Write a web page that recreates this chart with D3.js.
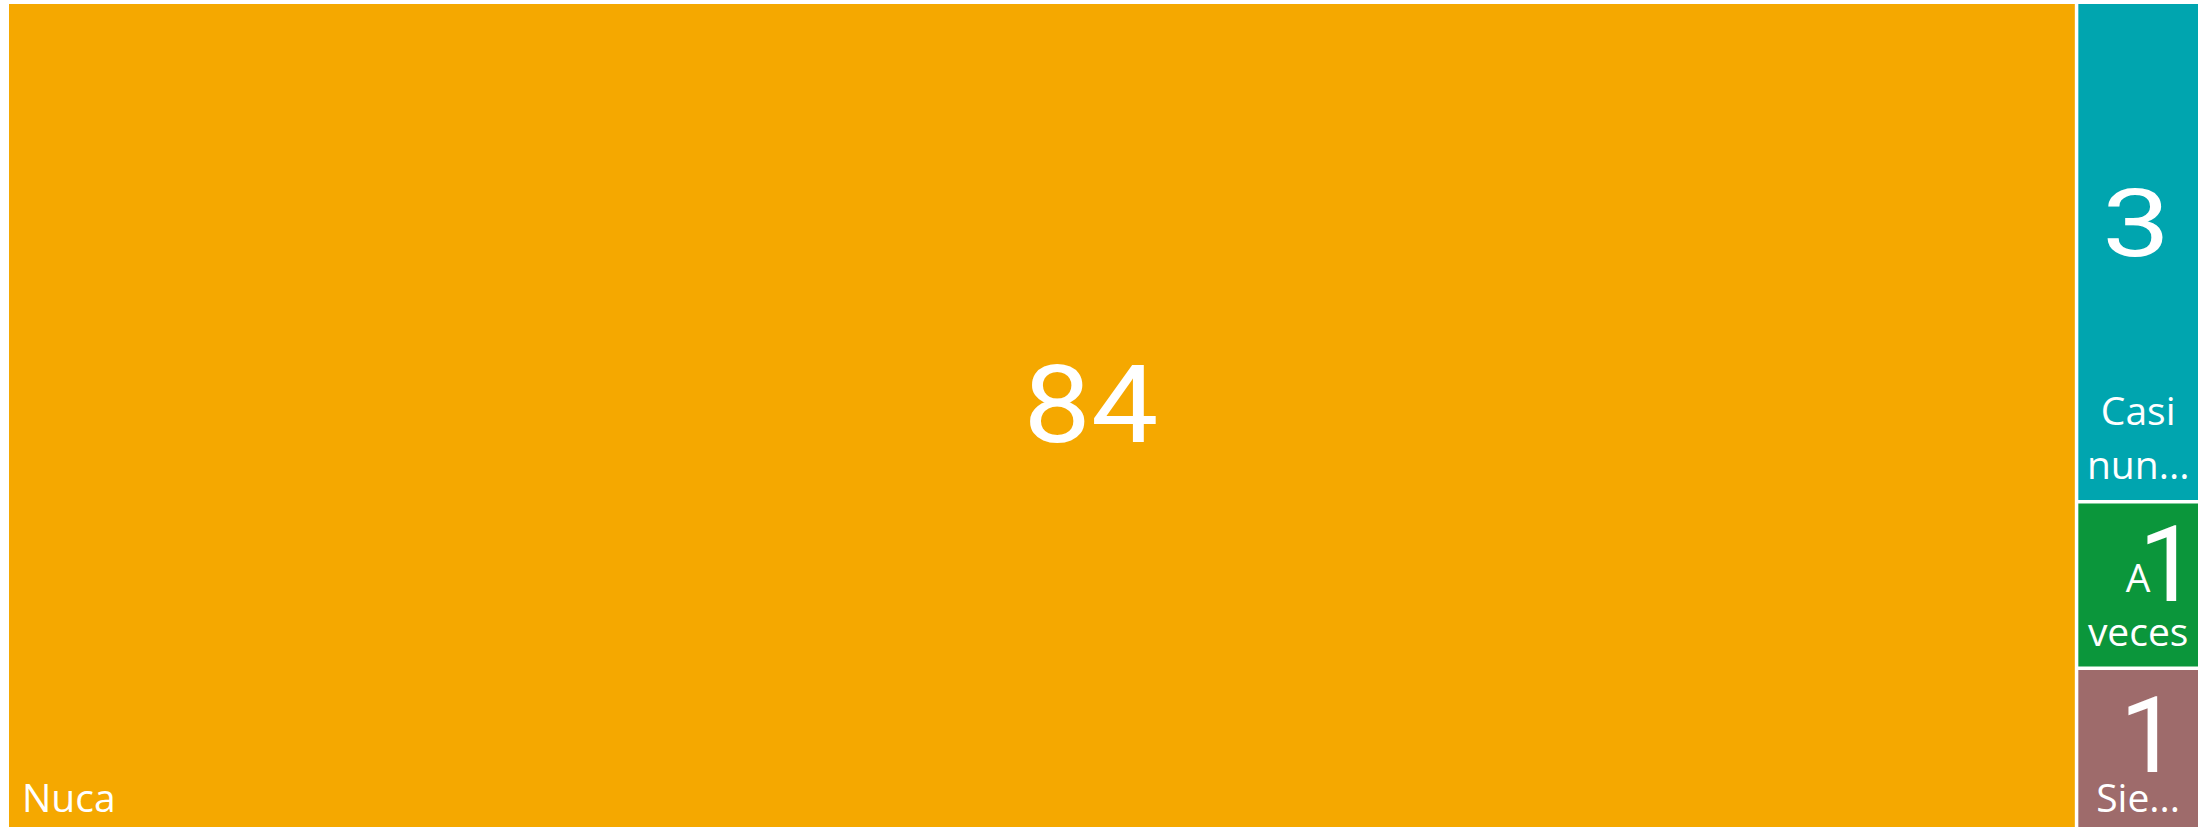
<!DOCTYPE html>
<html>
<head>
<meta charset="utf-8">
<script src="https://cdn.jsdelivr.net/npm/d3@7"></script>
<style>
  body { margin: 0; background: #fff; overflow: hidden; }
  svg { display: block; }
</style>
</head>
<body>
<svg width="2211" height="827"></svg>
<script>
// data
var categories = ["Nuca", "Casi nunca", "A veces", "Siempre"];
var counts = [84, 3, 1, 1];
var colors = ["#F5A800", "#00A5AF", "#0B963B", "#9E6B6B"];

// value label tweaks (font size, stretch, nudge) to follow the original placement
var valueStyle = {
	"Nuca":       { size: 107, sx: 1.12, dx: 49, dy: -15 },
	"Casi nunca": { size: 95,  sx: 1.28, dx: -2, dy: -30 },
	"A veces":    { size: 105, sx: 1,    dx: 30, dy: -22 },
	"Siempre":    { size: 105, sx: 1,    dx: 11, dy: -17 }
};

var svg = d3.select("svg"),
	margin = {top: 4, left: 9},
	width = 2189,
	height = 829,
	labelFont = "'Segoe UI', 'Open Sans', sans-serif",
	valueFont = "Roboto, Arial, sans-serif",
	labelSize = 39,
	lineHeight = 54;

var rows = categories.map(function(c, i){
	return {name: c, value: counts[i], color: colors[i]};
});

var root = d3.hierarchy({children: rows})
	.sum(function(d){ return d.value; })
	.sort(function(a, b){ return b.value - a.value; });

d3.treemap()
	.tile(d3.treemapSquarify)
	.size([width, height])
	.paddingInner(3.5)
	.round(false)(root);

var g = svg.append("g")
	.attr("transform", "translate(" + margin.left + "," + margin.top + ")");

var cell = g.selectAll(".cell")
	.data(root.leaves())
	.enter().append("g")
	.attr("class", "cell");

cell.append("rect")
	.attr("x", function(d){ return d.x0; })
	.attr("y", function(d){ return d.y0; })
	.attr("width", function(d){ return d.x1 - d.x0; })
	.attr("height", function(d){ return d.y1 - d.y0; })
	.attr("fill", function(d){ return d.data.color; });

// value in the middle
cell.append("text")
	.attr("transform", function(d){
		var s = valueStyle[d.data.name],
			x = (d.x0 + d.x1) / 2 + s.dx,
			y = (d.y0 + d.y1) / 2 + 0.358 * s.size + s.dy;
		return "translate(" + x + "," + y + ") scale(" + s.sx + ",1)";
	})
	.attr("text-anchor", "middle")
	.style("font-family", valueFont)
	.style("font-size", function(d){ return valueStyle[d.data.name].size + "px"; })
	.style("fill", "#fff")
	.text(function(d){ return d.value; });

// measuring helper
var probe = svg.append("text")
	.style("font-family", labelFont)
	.style("font-size", labelSize + "px")
	.style("visibility", "hidden");

function textWidth(s){
	probe.text(s);
	return probe.node().getComputedTextLength();
}

function fitWord(word, maxW){
	if (textWidth(word) <= maxW) return word;
	for (var n = word.length - 1; n > 0; n--) {
		var t = word.slice(0, n) + "...";
		if (textWidth(t) <= maxW) return t;
	}
	return "...";
}

function wrapLabel(label, maxW){
	var words = label.split(" "),
		lines = [],
		cur = "";
	words.forEach(function(w){
		var test = cur ? cur + " " + w : w;
		if (textWidth(test) <= maxW) {
			cur = test;
		} else {
			if (cur) lines.push(cur);
			cur = fitWord(w, maxW);
		}
	});
	if (cur) lines.push(cur);
	return lines;
}

// category label at the bottom
cell.each(function(d){
	var w = d.x1 - d.x0,
		narrow = w < 300,
		lines = wrapLabel(d.data.name, narrow ? w - 12 : w - 26),
		t = d3.select(this).append("text")
			.attr("text-anchor", narrow ? "middle" : "start")
			.style("font-family", labelFont)
			.style("font-size", labelSize + "px")
			.style("fill", "#fff");

	lines.forEach(function(line, i){
		t.append("tspan")
			.attr("x", narrow ? (d.x0 + d.x1) / 2 : d.x0 + 13)
			.attr("y", d.y1 - 21 - (lines.length - 1 - i) * lineHeight)
			.text(line);
	});
});

probe.remove();
</script>
</body>
</html>
